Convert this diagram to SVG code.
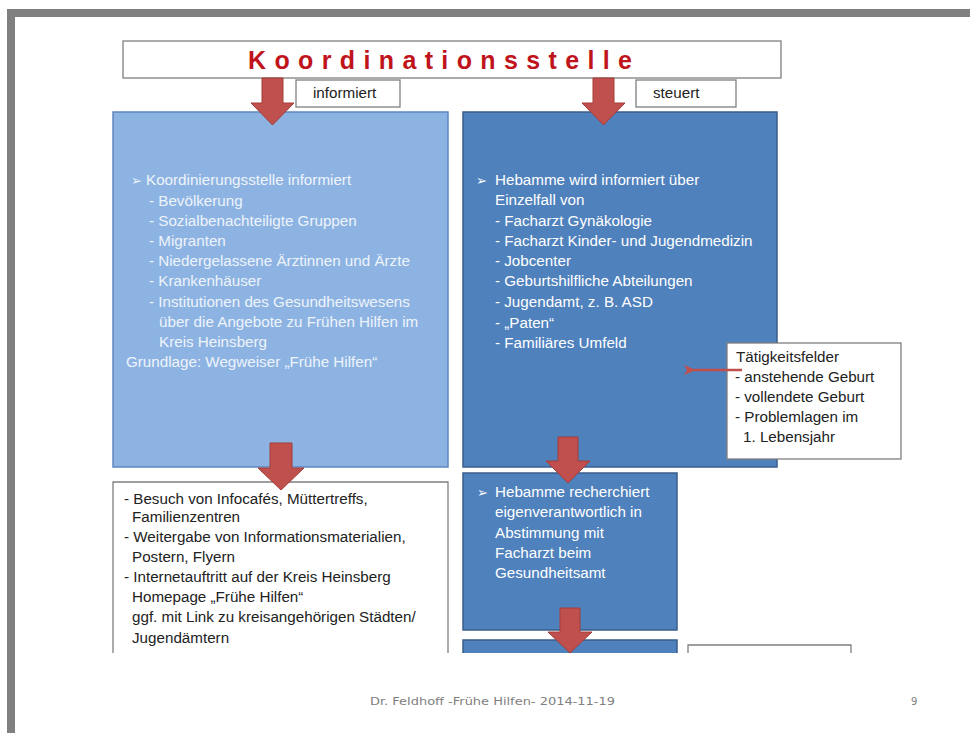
<svg xmlns="http://www.w3.org/2000/svg" width="970" height="733" viewBox="0 0 970 733">
<defs>
<style>
.frame{fill:#808080}
.lblue{fill:#8db3e2;stroke:#5f86c0;stroke-width:1.5}
.dblue{fill:#4f81bd;stroke:#385d8a;stroke-width:1.5}
.wbox{fill:#fff;stroke:#7f7f7f;stroke-width:1.3}
.arr{fill:#c0504d;stroke:#a33c39;stroke-width:1}
.t{font-family:"Liberation Sans",Arial,sans-serif;font-size:15.2px}
.bul{font-family:"DejaVu Sans",sans-serif;font-size:13px;font-weight:bold}
.lt{fill:#eef3fb}
.wt{fill:#ffffff}
.bt{fill:#222}
.title{font-family:"Liberation Sans",Arial,sans-serif;font-size:25px;font-weight:bold;fill:#c0141c}
.foot{font-family:"DejaVu Sans",Verdana,sans-serif;font-size:10px;fill:#808080}
</style>
<marker id="ah" markerWidth="12" markerHeight="10" refX="2" refY="5" orient="auto" markerUnits="userSpaceOnUse">
<path d="M0,5 L12,0 L9,5 L12,10 z" fill="#c0504d"/>
</marker>
</defs>
<rect width="970" height="733" fill="#fff"/>
<rect class="frame" x="7" y="9" width="963" height="8"/>
<rect class="frame" x="7" y="9" width="8" height="724"/>

<g id="title">
<rect class="wbox" x="123" y="41" width="658" height="37"/>
<text class="title" x="248" y="69" textLength="384" lengthAdjust="spacing">Koordinationsstelle</text>
</g>

<g id="label-informiert">
<rect class="wbox" x="296" y="80" width="104" height="27"/>
<text class="t bt" x="313" y="98" font-size="11">informiert</text>
</g>

<g id="label-steuert">
<rect class="wbox" x="636" y="80" width="100" height="27"/>
<text class="t bt" x="653" y="98" font-size="11">steuert</text>
</g>

<g id="box-left">
<rect class="lblue" x="113" y="112" width="335" height="355"/>
<text class="bul lt" x="131" y="185">➢</text>
<text class="t lt" x="146" y="185">Koordinierungsstelle informiert</text>
<text class="t lt" x="149" y="206">- Bevölkerung</text>
<text class="t lt" x="149" y="226">- Sozialbenachteiligte Gruppen</text>
<text class="t lt" x="149" y="246">- Migranten</text>
<text class="t lt" x="149" y="266">- Niedergelassene Ärztinnen und Ärzte</text>
<text class="t lt" x="149" y="286">- Krankenhäuser</text>
<text class="t lt" x="149" y="307">- Institutionen des Gesundheitswesens</text>
<text class="t lt" x="159" y="327">über die Angebote zu Frühen Hilfen im</text>
<text class="t lt" x="159" y="347">Kreis Heinsberg</text>
<text class="t lt" x="126" y="367">Grundlage: Wegweiser „Frühe Hilfen“</text>
</g>

<g id="box-right">
<rect class="dblue" x="463" y="112" width="314" height="355"/>
<text class="bul wt" x="476" y="185">➢</text>
<text class="t wt" x="495" y="185">Hebamme wird informiert über</text>
<text class="t wt" x="495" y="205">Einzelfall von</text>
<text class="t wt" x="495" y="226">- Facharzt Gynäkologie</text>
<text class="t wt" x="495" y="246">- Facharzt Kinder- und Jugendmedizin</text>
<text class="t wt" x="495" y="266">- Jobcenter</text>
<text class="t wt" x="495" y="286">- Geburtshilfliche Abteilungen</text>
<text class="t wt" x="495" y="307">- Jugendamt, z. B. ASD</text>
<text class="t wt" x="495" y="328">- „Paten“</text>
<text class="t wt" x="495" y="348">- Familiäres Umfeld</text>
</g>

<g id="box-taetigkeitsfelder">
<rect class="wbox" x="727" y="343" width="174" height="116"/>
<text class="t bt" x="736" y="362" font-size="15">Tätigkeitsfelder</text>
<text class="t bt" x="735" y="382" font-size="15">- anstehende Geburt</text>
<text class="t bt" x="735" y="402" font-size="15">- vollendete Geburt</text>
<text class="t bt" x="735" y="422" font-size="15">- Problemlagen im</text>
<text class="t bt" x="743" y="442" font-size="15">1. Lebensjahr</text>
</g>

<g id="box-bottom-left">
<path class="wbox" d="M113,653 V482 H448 V653"/>
<text class="t bt" x="124" y="504">- Besuch von Infocafés, Müttertreffs,</text>
<text class="t bt" x="132" y="522">Familienzentren</text>
<text class="t bt" x="124" y="542">- Weitergabe von Informationsmaterialien,</text>
<text class="t bt" x="132" y="562">Postern, Flyern</text>
<text class="t bt" x="124" y="582">- Internetauftritt auf der Kreis Heinsberg</text>
<text class="t bt" x="132" y="602">Homepage „Frühe Hilfen“</text>
<text class="t bt" x="132" y="622">ggf. mit Link zu kreisangehörigen Städten/</text>
<text class="t bt" x="132" y="643">Jugendämtern</text>
</g>

<g id="box-recherche">
<rect class="dblue" x="463" y="473" width="214" height="157"/>
<text class="bul wt" x="477" y="497">➢</text>
<text class="t wt" x="495" y="497">Hebamme recherchiert</text>
<text class="t wt" x="495" y="517">eigenverantwortlich in</text>
<text class="t wt" x="495" y="538">Abstimmung mit</text>
<text class="t wt" x="495" y="558">Facharzt beim</text>
<text class="t wt" x="495" y="578">Gesundheitsamt</text>
</g>

<g id="box-next">
<path class="dblue" d="M463,653 V640 H677 V653"/>
</g>

<g id="box-next-note">
<path class="wbox" d="M688,653 V645 H851 V653"/>
</g>

<g id="connectors">
<polygon class="arr" points="262,78 283,78 283,103 294,103 272.5,125 251,103 262,103"/>
<polygon class="arr" points="593,78 614,78 614,103 625,103 603.5,125 582,103 593,103"/>
<polygon class="arr" points="270,443 292,443 292,468 304,468 281,490 258,468 270,468"/>
<polygon class="arr" points="558,437 578,437 578,461 590,461 568,483 546,461 558,461"/>
<polygon class="arr" points="560,608 580,608 580,632 592,632 570,653 548,632 560,632"/>
<line x1="742" y1="370" x2="694" y2="370" stroke="#c0504d" stroke-width="2.5" marker-end="url(#ah)"/>
</g>

<g id="footer">
<text class="foot" x="370" y="705" textLength="245" lengthAdjust="spacingAndGlyphs">Dr. Feldhoff -Frühe Hilfen- 2014-11-19</text>
<text class="foot" x="911" y="705">9</text>
</g>
</svg>
